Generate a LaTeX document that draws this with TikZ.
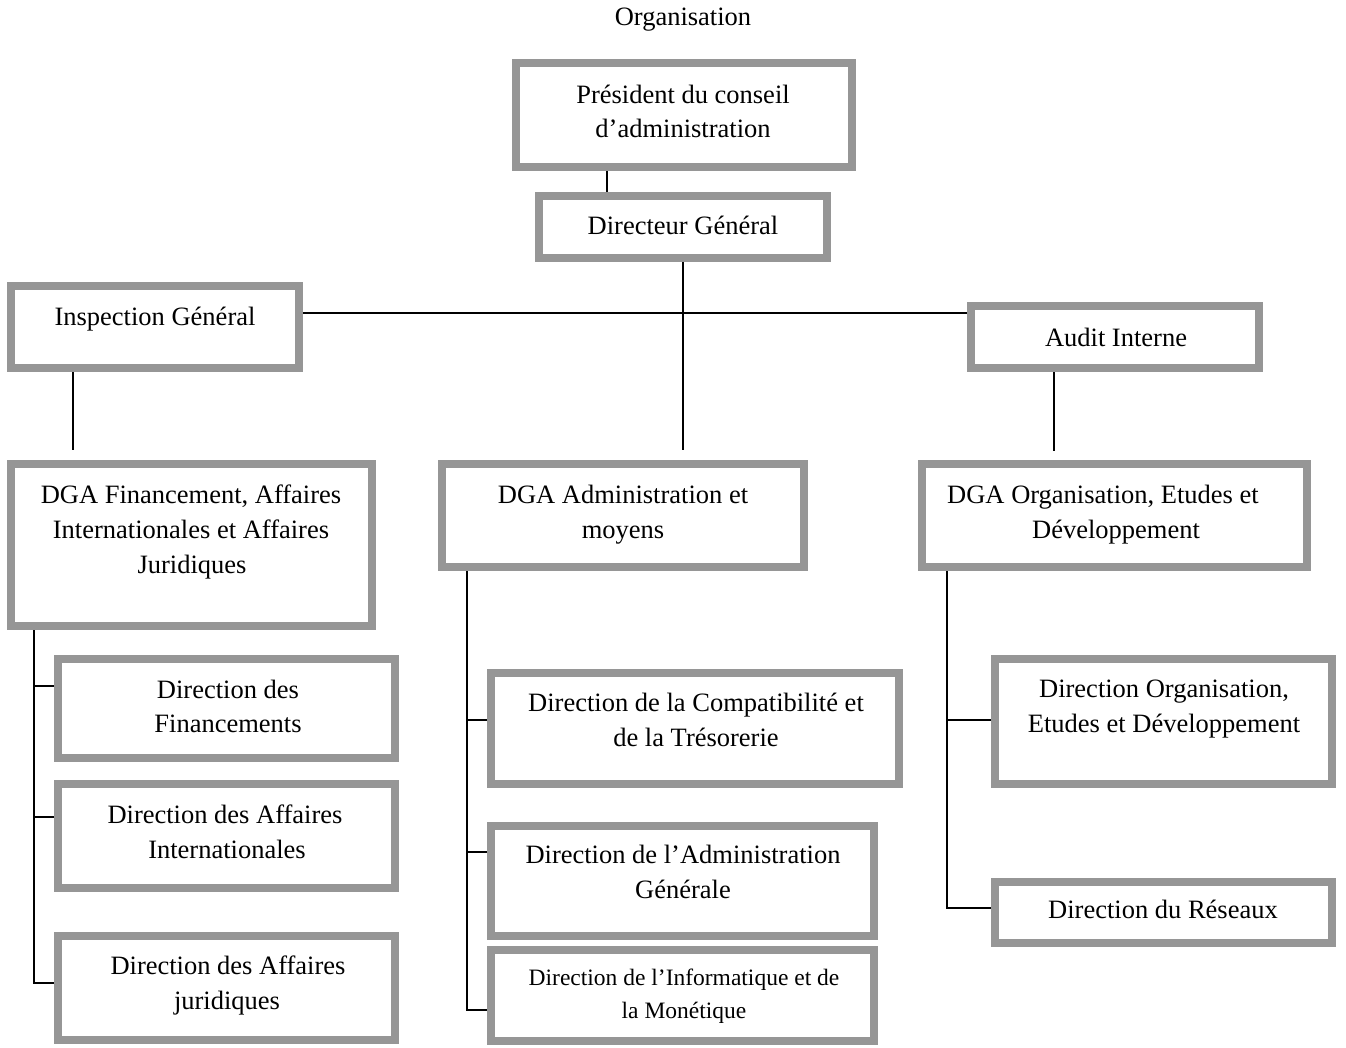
\documentclass[tikz,border=0pt]{standalone}
\usepackage{fontspec}
\setmainfont{Liberation Serif}
\definecolor{boxgray}{RGB}{150,150,150}
\begin{document}
\begin{tikzpicture}[x=1pt,y=-1pt,
  box/.style={draw=boxgray, line width=8pt, fill=white, inner sep=0pt, outer sep=4pt, rectangle},
  txt/.style={anchor=base, inner sep=0pt, font=\fontsize{26.5}{32}\selectfont},
  stxt/.style={anchor=base, inner sep=0pt, font=\fontsize{23.5}{28}\selectfont},
  conn/.style={draw=black, line width=1.6pt}]
\useasboundingbox (0,0) rectangle (1346,1048);
\newcommand{\bx}[5]{\node[box, minimum width={#4-#2-8}, minimum height={#5-#3-8}] (#1) at ({(#2+#4)/2},{(#3+#5)/2}) {};}
% boxes (outer edges)
\bx{pres}{512}{59}{856}{171}
\bx{dg}{535}{192}{831}{262}
\bx{insp}{7}{282}{303}{372}
\bx{audit}{967}{302}{1263}{372}
\bx{dgaA}{7}{460}{376}{630}
\bx{dgaB}{438}{460}{808}{571}
\bx{dgaC}{918}{460}{1311}{571}
\bx{fin}{54}{655}{399}{762}
\bx{aint}{54}{780}{399}{892}
\bx{ajur}{54}{932}{399}{1044}
\bx{compt}{487}{669}{903}{788}
\bx{admg}{487}{822}{878}{940}
\bx{info}{487}{946}{878}{1045}
\bx{dorg}{991}{655}{1336}{788}
\bx{res}{991}{878}{1336}{947}
% coordinates for connectors
\coordinate (xp) at (607,0);
\coordinate (hy) at (0,313);
\coordinate (dgEnd) at (683,450);
\coordinate (xi) at (73,0);
\coordinate (inspEnd) at (73,450);
\coordinate (xa) at (1054,0);
\coordinate (auditEnd) at (1054,451);
\coordinate (xA) at (34,0);
\coordinate (xB) at (467,0);
\coordinate (xC) at (947,0);
\coordinate (yA1) at (0,686);
\coordinate (yA2) at (0,817);
\coordinate (yA3) at (0,983);
\coordinate (yB1) at (0,720);
\coordinate (yB2) at (0,852);
\coordinate (yB3) at (0,1010);
\coordinate (yC1) at (0,720);
\coordinate (yC2) at (0,908);
% connectors
\draw[conn] (pres.south -| xp) -- (dg.north -| xp);
\draw[conn] (dg.south) -- (dgEnd);
\draw[conn] (insp.east |- hy) -- (audit.west |- hy);
\draw[conn] (insp.south -| xi) -- (inspEnd);
\draw[conn] (audit.south -| xa) -- (auditEnd);
\draw[conn] (dgaA.south -| xA) |- (ajur.west |- yA3);
\draw[conn] (fin.west |- yA1) -- (xA |- yA1);
\draw[conn] (aint.west |- yA2) -- (xA |- yA2);
\draw[conn] (dgaB.south -| xB) |- (info.west |- yB3);
\draw[conn] (compt.west |- yB1) -- (xB |- yB1);
\draw[conn] (admg.west |- yB2) -- (xB |- yB2);
\draw[conn] (dgaC.south -| xC) |- (res.west |- yC2);
\draw[conn] (dorg.west |- yC1) -- (xC |- yC1);
% texts
\node[txt] (title) at (683,26) {Organisation};
\node[txt] (t1a) at (683,104) {Président du conseil};
\node[txt] (t1b) at (683,138) {d’administration};
\node[txt] (t2) at (683,235) {Directeur Général};
\node[txt] (t3) at (155,326) {Inspection Général};
\node[txt] (t4) at (1116,347) {Audit Interne};
\node[txt] (t5a) at (191,503) {DGA Financement, Affaires};
\node[txt] (t5b) at (191,538) {Internationales et Affaires};
\node[txt] (t5c) at (192,573) {Juridiques};
\node[txt] (t6a) at (623,503) {DGA Administration et};
\node[txt] (t6b) at (623,538) {moyens};
\node[txt] (t7a) at (1103,503) {DGA Organisation, Etudes et};
\node[txt] (t7b) at (1116,538) {Développement};
\node[txt] (t8a) at (228,698) {Direction des};
\node[txt] (t8b) at (228,732) {Financements};
\node[txt] (t9a) at (225,823) {Direction des Affaires};
\node[txt] (t9b) at (227,858) {Internationales};
\node[txt] (t10a) at (228,974) {Direction des Affaires};
\node[txt] (t10b) at (227,1009) {juridiques};
\node[txt] (t11a) at (696,711) {Direction de la Compatibilité et};
\node[txt] (t11b) at (696,746) {de la Trésorerie};
\node[txt] (t12a) at (683,863) {Direction de l’Administration};
\node[txt] (t12b) at (683,898) {Générale};
\node[stxt] (t13a) at (684,985) {Direction de l’Informatique et de};
\node[stxt] (t13b) at (684,1018) {la Monétique};
\node[txt] (t14a) at (1164,697) {Direction Organisation,};
\node[txt] (t14b) at (1164,732) {Etudes et Développement};
\node[txt] (t15) at (1163,918) {Direction du Réseaux};
\end{tikzpicture}
\end{document}
